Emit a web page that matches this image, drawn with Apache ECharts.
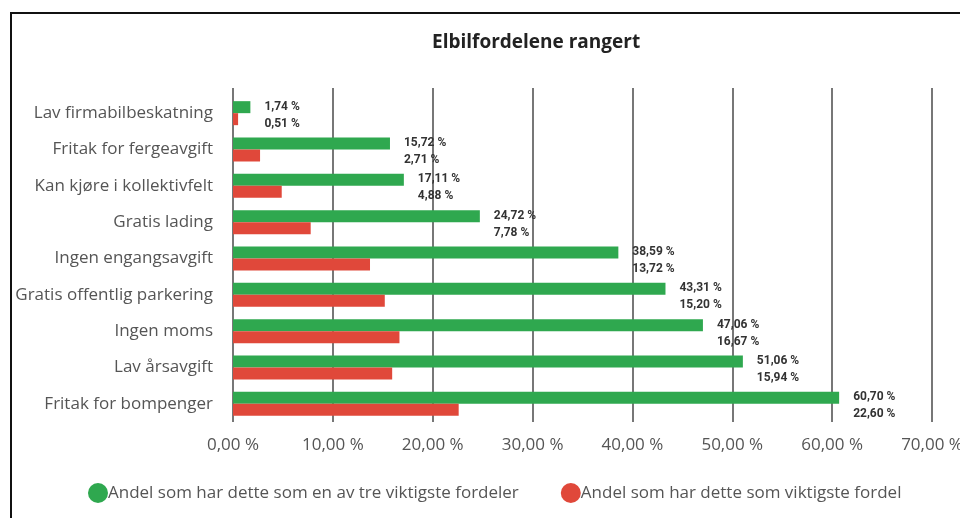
<!DOCTYPE html>
<html>
<head>
<meta charset="utf-8">
<script src="https://cdn.jsdelivr.net/npm/echarts@6/dist/echarts.min.js"></script>
<style>
  html, body { margin: 0; padding: 0; background: #fff; }
  #chart { width: 960px; height: 518px; }
</style>
</head>
<body>
<div id="chart"></div>
<script>
var categories = ['Lav firmabilbeskatning', 'Fritak for fergeavgift', 'Kan kjøre i kollektivfelt',
  'Gratis lading', 'Ingen engangsavgift', 'Gratis offentlig parkering', 'Ingen moms',
  'Lav årsavgift', 'Fritak for bompenger'];
// andel som har dette som en av tre viktigste fordeler
var topThree = [1.74, 15.72, 17.11, 24.72, 38.59, 43.31, 47.06, 51.06, 60.70];
// andel som har dette som viktigste fordel
var mostImportant = [0.51, 2.71, 4.88, 7.78, 13.72, 15.20, 16.67, 15.94, 22.60];
var seriesNames = ['Andel som har dette som en av tre viktigste fordeler', 'Andel som har dette som viktigste fordel'];

function pct(v) {
  return v.toFixed(2).replace('.', ',') + ' %';
}

var chart = echarts.init(document.getElementById('chart'));

var option = {
  backgroundColor: '#fff',
  animation: false,
  title: {
    text: 'Elbilfordelene rangert',
    left: 427,
    top: 28,
    textStyle: { fontFamily: 'Open Sans', fontSize: 19, fontWeight: 'bold', color: '#222' }
  },
  graphic: [{
    type: 'rect',
    shape: { x: 11, y: 13, width: 1000, height: 1000 },
    style: { fill: 'none', stroke: '#111', lineWidth: 2 },
    silent: true
  }],
  legend: {
    left: 83,
    top: 478,
    itemWidth: 20,
    itemHeight: 20,
    itemGap: 42,
    icon: 'circle',
    textStyle: { fontFamily: 'Open Sans', fontSize: 17, color: '#555', padding: [0, 0, 0, -5] },
    data: seriesNames
  },
  grid: { left: 233, right: 28, top: 95, bottom: 96, outerBoundsMode: 'none' },
  xAxis: [{
    type: 'value',
    min: 0,
    max: 70,
    interval: 10,
    axisLine: { show: false },
    axisTick: { show: false },
    axisLabel: {
      margin: 15,
      fontFamily: 'Open Sans',
      fontSize: 17,
      color: '#555',
      formatter: function (v) { return pct(v); }
    },
    splitLine: { show: true, lineStyle: { color: '#777', width: 2 } }
  }, {
    type: 'value',
    position: 'top',
    min: 0,
    max: 70,
    interval: 10,
    axisLine: { show: false },
    axisTick: { show: true, length: 7, lineStyle: { color: '#777', width: 2 } },
    axisLabel: { show: false },
    splitLine: { show: false }
  }],
  yAxis: {
    type: 'category',
    inverse: true,
    data: categories,
    axisLine: { show: false },
    axisTick: { show: false },
    axisLabel: { margin: 20, fontFamily: 'Open Sans', fontSize: 17, color: '#555' }
  },
  series: [{
    name: seriesNames[0],
    type: 'bar',
    data: topThree,
    barWidth: 12,
    barGap: '0%',
    itemStyle: { color: '#2fa84f' },
    label: {
      show: true,
      position: 'right',
      distance: 14,
      offset: [0, 8],
      fontFamily: 'Roboto',
      fontWeight: 'bold',
      fontSize: 12,
      lineHeight: 17,
      color: '#333',
      formatter: function (p) {
        return pct(topThree[p.dataIndex]) + '\n' + pct(mostImportant[p.dataIndex]);
      }
    }
  }, {
    name: seriesNames[1],
    type: 'bar',
    data: mostImportant,
    barWidth: 12,
    barGap: '0%',
    itemStyle: { color: '#e0483a' }
  }]
};

chart.setOption(option);
</script>
</body>
</html>
